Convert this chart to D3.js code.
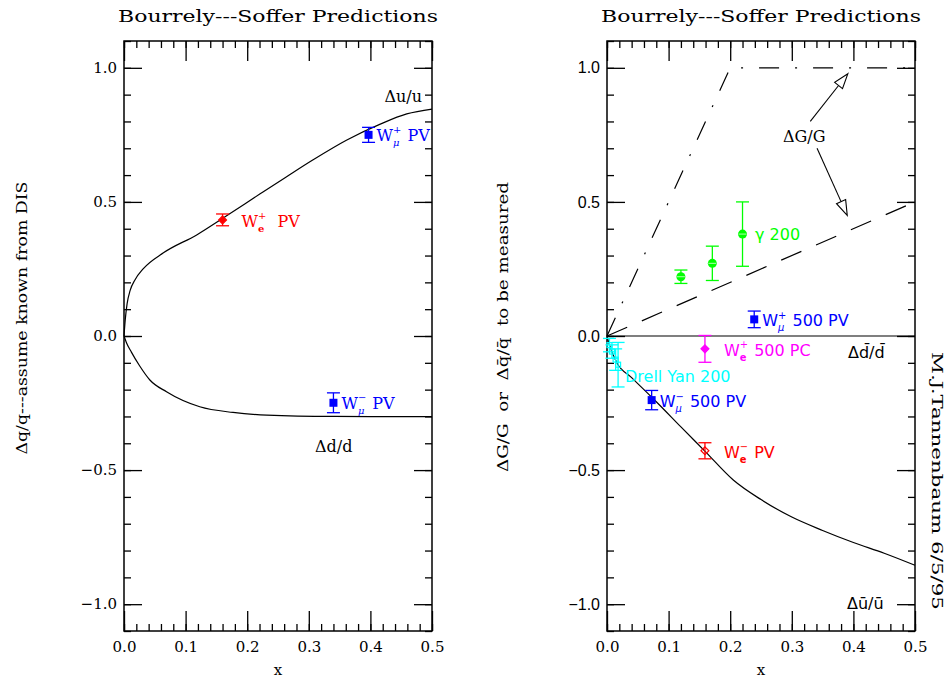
<!DOCTYPE html>
<html>
<head>
<meta charset="utf-8">
<script src="https://cdn.jsdelivr.net/npm/d3@7"></script>
<style>
  body { margin: 0; background: #fff; }
  text { white-space: pre; }
</style>
</head>
<body>
<svg id="svg1" width="950" height="682"></svg>
<script>
// ---- data ----
// left panel: Bourrely-Soffer Delta u/u and Delta d/d
var uX = [0, 0.002, 0.005, 0.01, 0.018, 0.031, 0.064, 0.118, 0.161, 0.221, 0.264, 0.307, 0.361, 0.416, 0.459, 0.5];
var uY = [0, 0.06, 0.12, 0.17, 0.21, 0.25, 0.31, 0.377, 0.44, 0.53, 0.594, 0.657, 0.73, 0.79, 0.828, 0.846];
var dX = [0, 0.004, 0.012, 0.025, 0.042, 0.069, 0.123, 0.177, 0.232, 0.34, 0.5];
var dY = [0, -0.025, -0.06, -0.11, -0.164, -0.208, -0.264, -0.285, -0.295, -0.30, -0.301];
// right panel: Delta ubar/ubar, Delta dbar/dbar, Delta G/G
var ubX = [0, 0.005, 0.016, 0.04, 0.08, 0.12, 0.16, 0.205, 0.25, 0.3, 0.35, 0.4, 0.45, 0.5];
var ubY = [0, -0.04, -0.1, -0.155, -0.245, -0.339, -0.432, -0.537, -0.61, -0.675, -0.725, -0.77, -0.81, -0.855];
var dbX = [0, 0.5];
var dbY = [0, 0];
var gDashDotX = [0, 0.2, 0.5];
var gDashDotY = [0, 1.0, 1.0];
var gDashX = [0, 0.5];
var gDashY = [0, 0.5];

// measured points [x, y, err]
var weplusPV = [[0.16, 0.433, 0.022]];
var wmuplusPV = [[0.397, 0.75, 0.028]];
var wmuminusPV = [[0.34, -0.249, 0.037]];
var gamma200 = [[0.12, 0.221, 0.025], [0.171, 0.271, 0.064], [0.22, 0.38, 0.12]];
var wmuplus500 = [[0.239, 0.062, 0.031]];
var weplus500PC = [[0.159, -0.048, 0.05]];
var drellYan200 = [[0.004, -0.034, 0.025], [0.008, -0.058, 0.025], [0.014, -0.088, 0.04], [0.018, -0.107, 0.083]];
var wmuminus500 = [[0.0725, -0.239, 0.036]];
var weminusPV = [[0.159, -0.428, 0.03]];

var xMajor = [0, 0.1, 0.2, 0.3, 0.4, 0.5];
var yMajor = [-1, -0.5, 0, 0.5, 1];

var svg = d3.select('#svg1');
var serif = 'DejaVu Serif, serif';
var sans = 'Liberation Sans, Arial, sans-serif';
var wide = 'DejaVu Sans, sans-serif';

var y = d3.scaleLinear().domain([-1.1, 1.1]).range([631, 41]);
var xL = d3.scaleLinear().domain([0, 0.5]).range([124, 432]);
var xR = d3.scaleLinear().domain([0, 0.5]).range([607, 915]);

function zip(a, b) { return a.map(function (v, i) { return [v, b[i]]; }); }

function drawFrame(x, yLabelFont, yLabelSize) {
    var g = svg.append('g');
    var fmt = d3.format('.1f');
    var minorX = d3.range(0, 0.5001, 0.02);
    var minorY = d3.range(-11, 12).map(function (v) { return v / 10; });

    var b = g.append('g').attr('transform', 'translate(0,' + y.range()[0] + ')')
        .call(d3.axisBottom(x).tickValues(xMajor).tickSize(-20).tickPadding(10).tickFormat(fmt));
    b.selectAll('text').attr('font-family', serif).attr('font-size', 15);
    g.append('g').attr('transform', 'translate(0,' + y.range()[0] + ')')
        .call(d3.axisBottom(x).tickValues(minorX).tickSize(-7).tickFormat(''));
    g.append('g').attr('transform', 'translate(0,' + y.range()[1] + ')')
        .call(d3.axisTop(x).tickValues(xMajor).tickSize(-20).tickFormat(''));
    g.append('g').attr('transform', 'translate(0,' + y.range()[1] + ')')
        .call(d3.axisTop(x).tickValues(minorX).tickSize(-7).tickFormat(''));

    var l = g.append('g').attr('transform', 'translate(' + x.range()[0] + ',0)')
        .call(d3.axisLeft(y).tickValues(yMajor).tickSize(-18).tickPadding(7).tickFormat(fmt));
    l.selectAll('text').attr('font-family', yLabelFont).attr('font-size', yLabelSize);
    g.append('g').attr('transform', 'translate(' + x.range()[0] + ',0)')
        .call(d3.axisLeft(y).tickValues(minorY).tickSize(-7).tickFormat(''));
    g.append('g').attr('transform', 'translate(' + x.range()[1] + ',0)')
        .call(d3.axisRight(y).tickValues(yMajor).tickSize(-18).tickFormat(''));
    g.append('g').attr('transform', 'translate(' + x.range()[1] + ',0)')
        .call(d3.axisRight(y).tickValues(minorY).tickSize(-7).tickFormat(''));

    g.selectAll('.domain').remove();
    g.selectAll('.tick line').attr('stroke', '#000').attr('stroke-width', 1.3);
    g.append('rect')
        .attr('x', x.range()[0]).attr('y', y.range()[1])
        .attr('width', x.range()[1] - x.range()[0])
        .attr('height', y.range()[0] - y.range()[1])
        .attr('fill', 'none').attr('stroke', '#000').attr('stroke-width', 1.5);

    var cx = (x.range()[0] + x.range()[1]) / 2;
    svg.append('text').attr('x', cx).attr('y', 22).attr('text-anchor', 'middle')
        .attr('font-family', serif).attr('font-size', 16)
        .attr('textLength', 320).attr('lengthAdjust', 'spacingAndGlyphs')
        .text('Bourrely---Soffer Predictions');
    svg.append('text').attr('x', cx).attr('y', 675).attr('text-anchor', 'middle')
        .attr('font-family', serif).attr('font-size', 15).text('x');
}

function drawCurve(x, xs, ys, dash) {
    svg.append('path')
        .datum(zip(xs, ys))
        .attr('d', d3.line().x(function (d) { return x(d[0]); }).y(function (d) { return y(d[1]); })
            .curve(d3.curveMonotoneX))
        .attr('fill', 'none').attr('stroke', '#000').attr('stroke-width', 1.2)
        .attr('stroke-dasharray', dash || null);
}

function drawPoints(x, pts, color, shape) {
    var g = svg.append('g');
    pts.forEach(function (p) {
        var px = x(p[0]), py = y(p[1]), top = y(p[1] + p[2]), bot = y(p[1] - p[2]);
        g.append('line').attr('x1', px).attr('x2', px).attr('y1', top).attr('y2', bot)
            .attr('stroke', color).attr('stroke-width', 1.3);
        [top, bot].forEach(function (yy) {
            g.append('line').attr('x1', px - 6.5).attr('x2', px + 6.5).attr('y1', yy).attr('y2', yy)
                .attr('stroke', color).attr('stroke-width', 1.3);
        });
        if (shape == 'square') {
            g.append('rect').attr('x', px - 4).attr('y', py - 4).attr('width', 8).attr('height', 8)
                .attr('fill', color);
        }
        else if (shape == 'smallsquare') {
            g.append('rect').attr('x', px - 2.5).attr('y', py - 2.5).attr('width', 5).attr('height', 5)
                .attr('fill', 'none').attr('stroke', color).attr('stroke-width', 1.2);
        }
        else if (shape == 'circle') {
            g.append('circle').attr('cx', px).attr('cy', py).attr('r', 4.5).attr('fill', color);
            g.append('line').attr('x1', px - 4).attr('x2', px + 4).attr('y1', py).attr('y2', py)
                .attr('stroke', '#b0ffb0').attr('stroke-width', 1);
        }
        else if (shape == 'diamond' || shape == 'opendiamond') {
            g.append('path').attr('d', d3.symbol().type(d3.symbolDiamond2).size(40)())
                .attr('transform', 'translate(' + px + ',' + py + ')')
                .attr('fill', shape == 'diamond' ? color : 'none')
                .attr('stroke', color).attr('stroke-width', 1.2);
        }
    });
}

// text made of pieces: {t: 'W'} or {sup: '+', sub: 'e'}
function richLabel(px, py, color, font, size, parts) {
    var cx = px;
    parts.forEach(function (p) {
        if (p.t !== undefined) {
            var t = svg.append('text').attr('x', cx).attr('y', py).attr('fill', color)
                .attr('font-family', font).attr('font-size', size).text(p.t);
            cx += t.node().getComputedTextLength();
        }
        else {
            var w = 0;
            if (p.sup) {
                var s = svg.append('text').attr('x', cx).attr('y', py - size * 0.47).attr('fill', color)
                    .attr('font-family', font).attr('font-size', size * 0.62).text(p.sup);
                w = Math.max(w, s.node().getComputedTextLength());
            }
            if (p.sub) {
                var b = svg.append('text').attr('x', cx).attr('y', py + size * 0.32).attr('fill', color)
                    .attr('font-family', font).attr('font-size', size * 0.62)
                    .attr('font-weight', p.sub == 'e' ? 'bold' : null)
                    .attr('font-style', p.sub == 'μ' ? 'italic' : null).text(p.sub);
                w = Math.max(w, b.node().getComputedTextLength());
            }
            cx += w + 1;
        }
    });
}

function arrow(x, from, to) {
    var x1 = x(from[0]), y1 = y(from[1]), x2 = x(to[0]), y2 = y(to[1]);
    var a = Math.atan2(y2 - y1, x2 - x1), L = 15, W = 5;
    var bx = x2 - L * Math.cos(a), by = y2 - L * Math.sin(a);
    svg.append('line').attr('x1', x1).attr('y1', y1).attr('x2', bx).attr('y2', by)
        .attr('stroke', '#000').attr('stroke-width', 1.1);
    var pts = [[x2, y2],
        [bx + W * Math.sin(a), by - W * Math.cos(a)],
        [bx - W * Math.sin(a), by + W * Math.cos(a)]];
    svg.append('polygon').attr('points', pts.map(function (p) { return p.join(','); }).join(' '))
        .attr('fill', '#fff').attr('stroke', '#000').attr('stroke-width', 1.1);
}

// ---- left panel ----
drawFrame(xL, serif, 15);
drawCurve(xL, uX, uY);
drawCurve(xL, dX, dY);
svg.append('text').attr('x', 422).attr('y', 102).attr('text-anchor', 'end')
    .attr('font-family', serif).attr('font-size', 16).text('Δu/u');
svg.append('text').attr('x', 315).attr('y', 452)
    .attr('font-family', serif).attr('font-size', 16).text('Δd/d');
drawPoints(xL, weplusPV, '#ff0000', 'diamond');
drawPoints(xL, wmuplusPV, '#0000ff', 'square');
drawPoints(xL, wmuminusPV, '#0000ff', 'square');
richLabel(xL(weplusPV[0][0]) + 19, y(weplusPV[0][1]) + 7, '#ff0000', serif, 16, [{ t: 'W' }, { sup: '+', sub: 'e' }, { t: '  PV' }]);
richLabel(xL(wmuplusPV[0][0]) + 8, y(wmuplusPV[0][1]) + 6, '#0000ff', serif, 16, [{ t: 'W' }, { sup: '+', sub: 'μ' }, { t: ' PV' }]);
richLabel(xL(wmuminusPV[0][0]) + 8, y(wmuminusPV[0][1]) + 6, '#0000ff', serif, 16, [{ t: 'W' }, { sup: '−', sub: 'μ' }, { t: ' PV' }]);
svg.append('text').attr('transform', 'translate(27,318) rotate(-90)').attr('text-anchor', 'middle')
    .attr('font-family', serif).attr('font-size', 15)
    .attr('textLength', 273).attr('lengthAdjust', 'spacingAndGlyphs')
    .text('Δq/q---assume known from DIS');

// ---- right panel ----
drawFrame(xR, sans, 16);
drawCurve(xR, dbX, dbY);
drawCurve(xR, ubX, ubY);
svg.append('path').datum(zip(gDashDotX, gDashDotY))
    .attr('d', d3.line().x(function (d) { return xR(d[0]); }).y(function (d) { return y(d[1]); }))
    .attr('fill', 'none').attr('stroke', '#000').attr('stroke-width', 1.2)
    .attr('stroke-dasharray', '20,16,2,16');
svg.append('path').datum(zip(gDashX, gDashY))
    .attr('d', d3.line().x(function (d) { return xR(d[0]); }).y(function (d) { return y(d[1]); }))
    .attr('fill', 'none').attr('stroke', '#000').attr('stroke-width', 1.2)
    .attr('stroke-dasharray', '22,16');
svg.append('text').attr('x', 783).attr('y', 142)
    .attr('font-family', serif).attr('font-size', 16).text('ΔG/G');
arrow(xR, [0.33, 0.80], [0.391, 0.978]);
arrow(xR, [0.341, 0.70], [0.39, 0.45]);
svg.append('text').attr('x', 848).attr('y', 358)
    .attr('font-family', wide).attr('font-size', 16).text('Δd\u0304/d\u0304');
svg.append('text').attr('x', 847).attr('y', 609)
    .attr('font-family', wide).attr('font-size', 16).text('Δu\u0304/u\u0304');

drawPoints(xR, gamma200, '#00ff00', 'circle');
drawPoints(xR, wmuplus500, '#0000ff', 'square');
drawPoints(xR, weplus500PC, '#ff00ff', 'diamond');
drawPoints(xR, drellYan200, '#00ffff', 'smallsquare');
drawPoints(xR, wmuminus500, '#0000ff', 'square');
drawPoints(xR, weminusPV, '#ff0000', 'opendiamond');

richLabel(755, 240, '#00ff00', wide, 16, [{ t: 'γ 200' }]);
richLabel(xR(wmuplus500[0][0]) + 8, y(wmuplus500[0][1]) + 7, '#0000ff', wide, 16, [{ t: 'W' }, { sup: '+', sub: 'μ' }, { t: ' 500 PV' }]);
richLabel(xR(weplus500PC[0][0]) + 19, y(weplus500PC[0][1]) + 7, '#ff00ff', wide, 16, [{ t: 'W' }, { sup: '+', sub: 'e' }, { t: ' 500 PC' }]);
richLabel(625, 382, '#00ffff', wide, 16, [{ t: 'Drell Yan 200' }]);
richLabel(xR(wmuminus500[0][0]) + 8, y(wmuminus500[0][1]) + 7, '#0000ff', wide, 16, [{ t: 'W' }, { sup: '−', sub: 'μ' }, { t: ' 500 PV' }]);
richLabel(xR(weminusPV[0][0]) + 19, y(weminusPV[0][1]) + 7, '#ff0000', wide, 16, [{ t: 'W' }, { sup: '−', sub: 'e' }, { t: ' PV' }]);

svg.append('text').attr('transform', 'translate(508,327) rotate(-90)').attr('text-anchor', 'middle')
    .attr('font-family', serif).attr('font-size', 15)
    .attr('textLength', 290).attr('lengthAdjust', 'spacingAndGlyphs')
    .text('ΔG/G  or  Δq\u0304/q\u0304  to be measured');
svg.append('text').attr('transform', 'translate(932,481) rotate(90)').attr('text-anchor', 'middle')
    .attr('font-family', serif).attr('font-size', 15)
    .attr('textLength', 258).attr('lengthAdjust', 'spacingAndGlyphs')
    .text('M.J.Tannenbaum 6/5/95');
</script>
</body>
</html>
